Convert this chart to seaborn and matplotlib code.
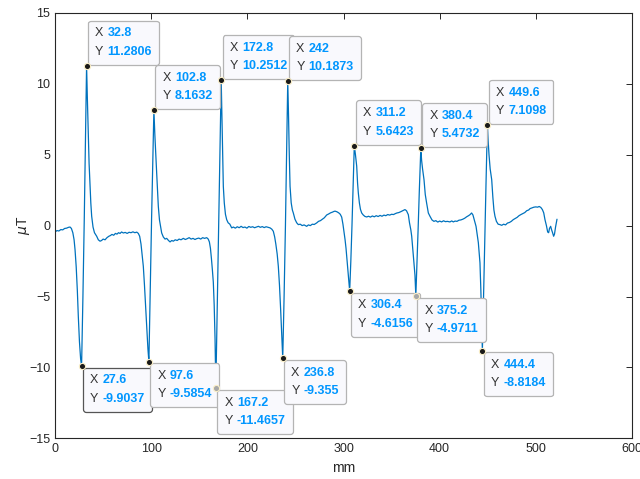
import matplotlib
matplotlib.use("Agg")
import matplotlib.pyplot as plt
from matplotlib.offsetbox import AnnotationBbox, TextArea, HPacker, VPacker
import seaborn as sns
import pandas as pd

# señal (posicion en mm, campo en uT)
pos_mm = [
    0, 2, 4, 6, 8, 10, 12, 14, 15.6, 17, 18.5, 19.8, 20.8, 22, 23.2, 24.2, 25.4, 26.6, 27.6,
    29, 30.4, 31.6, 32.8,
    33.6, 34.6, 35.4, 36.4, 37.2, 38.1, 39.5, 41, 43.3, 45, 46.8, 48.4, 50, 52, 54, 56, 57.6,
    59.2, 61, 62.8, 64.4, 66, 67.6, 69.2, 71, 73, 75, 77, 79, 81, 83, 85, 86.6, 88, 89.4,
    90.6, 91.8, 93, 94.2, 95.3, 96.6, 97.6,
    99, 100.4, 101.6, 102.8,
    103.8, 104.8, 105.7, 106.6, 107.4, 108.6, 109.8, 110.9, 112.6, 114.4, 116.1, 118, 119.6,
    121.4, 123, 125, 127, 129, 131, 133.4, 135.5, 137.5, 139.5, 141.5, 143.5, 145.5, 147.3,
    149.5, 151.5, 153.5, 155.5, 157.7, 159.3, 160.5, 161.6, 162.6, 163.6, 164.6, 165.5, 166.4,
    167.2,
    168.6, 170, 171.4, 172.8,
    173.6, 174.4, 175, 176, 177.2, 178.5, 180, 181.8, 183.7, 185.5, 187.5, 189.5, 191.5,
    193.5, 195.5, 197.5, 199.5, 201.5, 203.5, 205.5, 207.5, 209.5, 211.5, 213.5, 215.5,
    217.5, 219.5, 221.5, 223.6, 225.4, 227, 228.4, 229.6, 231, 232.2, 233.4, 234.6, 235.8,
    236.8,
    238.2, 239.6, 240.8, 242,
    242.8, 243.6, 244.4, 245.6, 246.8, 247.8, 249.5, 251.3, 253, 255, 257, 259, 261.7, 263.5,
    265.5, 267.5, 269.5, 272.1, 274, 276, 278, 280, 282.5, 284.5, 286.5, 288.5, 290, 291.2,
    293, 295, 296.6, 298.1, 299.4, 300.6, 301.6, 302.6, 303.5, 304.4, 305.4, 306.4,
    307.6, 308.8, 310, 311.2,
    312.4, 313.7, 314.6, 315.4, 316.5, 317.6, 318.9, 320.5, 322.2, 324.1, 326, 328, 330,
    332, 334, 336, 338, 340, 342, 344, 346, 348, 350, 352, 354, 355.5, 357.5, 359.5, 361.5,
    363.9, 365.5, 367.4, 368.6, 370, 370.9, 372, 373.2, 374.3, 375.2,
    376.4, 377.6, 378.8, 380.4,
    381.2, 382.2, 383.7, 385, 386.4, 388.2, 389.9, 392, 394, 396, 398, 400, 402, 404, 406,
    408, 410.7, 412.5, 414.2, 416, 418, 420, 422, 424, 426, 428, 430, 431.5, 433.2, 434.6,
    436, 437.8, 439, 440.2, 441.1, 441.9, 442.8, 443.6, 444.4,
    445.6, 446.8, 448.2, 449.6,
    450.4, 451.3, 452.5, 454.1, 455.3, 456.4, 457.5, 459, 460.8, 462.7, 464.5, 466.5, 468.5,
    470.5, 472.5, 474.5, 476.5, 478.5, 480.5, 482.5, 484.5, 486.5, 488.5, 490.5, 492.5, 494,
    496, 498, 500, 501.8, 503.5, 505.2, 506.8, 508.2, 509.5, 511, 512.3, 513.3, 514.2, 515.4,
    516.4, 517.4, 518.5, 519.4, 520.5, 522,
]
campo_uT = [
    -0.45, -0.35, -0.38, -0.28, -0.3, -0.2, -0.18, -0.12, -0.1, -0.2, -0.5, -1.0, -1.7, -2.9,
    -4.6, -6.4, -8.2, -9.4, -9.9037,
    -5.0, 0.5, 6.0, 11.2806,
    9.0, 6.5, 4.4, 2.77, 1.6, 0.66, -0.1, -0.5, -0.75, -1.0, -1.1, -1.05, -0.95, -1.0, -0.85,
    -0.75, -0.7, -0.62, -0.68, -0.55, -0.6, -0.5, -0.55, -0.45, -0.52, -0.48, -0.55, -0.47,
    -0.5, -0.44, -0.5, -0.46, -0.55, -0.75, -1.3, -2.1, -2.87, -4.2, -5.7, -7.1, -8.7, -9.5854,
    -4.5, 0.5, 4.5, 8.1632,
    6.4, 4.9, 3.7, 2.4, 1.36, 0.4, -0.1, -0.52, -0.8, -0.95, -0.9, -1.05, -1.15, -1.05, -1.1,
    -1.0, -1.05, -0.95, -1.0, -0.9, -0.98, -0.92, -0.85, -0.95, -0.9, -0.98, -0.92, -0.88,
    -0.95, -0.85, -0.9, -0.85, -0.95, -1.15, -1.6, -2.3, -3.1, -4.0, -5.6, -8.0,
    -11.4657,
    -6.0, -0.5, 5.0, 10.2512,
    7.6, 4.8, 2.77, 1.6, 0.8, 0.42, 0.2, 0.1, -0.16, -0.1, -0.18, -0.08, -0.15, -0.05, -0.14,
    -0.1, -0.18, -0.06, -0.12, -0.08, -0.15, -0.1, -0.05, -0.12, -0.07, -0.14, -0.08, -0.12,
    -0.16, -0.25, -0.4, -0.8, -1.3, -2.0, -2.87, -4.2, -5.9, -7.8,
    -9.355,
    -5.0, 0.0, 5.0, 10.1873,
    7.8, 5.0, 2.77, 1.6, 1.1, 0.89, 0.45, 0.2, 0.07, 0.1, 0.0, 0.05, -0.05, 0.05, 0.0, 0.1,
    0.08, 0.19, 0.3, 0.35, 0.45, 0.55, 0.75, 0.82, 0.9, 0.95, 1.0, 1.02, 0.98, 0.9, 0.8, 0.6,
    0.1, -0.5, -0.99, -1.6, -2.3, -3.0, -3.8, -4.6156,
    -2.5, 0.0, 2.8, 5.6423,
    5.0, 4.2, 3.0, 2.3, 1.6, 1.15, 0.89, 0.75, 0.65, 0.61, 0.66, 0.6, 0.68, 0.62, 0.7, 0.64,
    0.72, 0.66, 0.74, 0.7, 0.78, 0.74, 0.8, 0.78, 0.85, 0.89, 0.92, 0.98, 1.05, 1.13, 1.05,
    0.77, 0.2, -0.3, -0.75, -1.6, -2.6, -3.5, -4.9711,
    -2.6, -0.2, 2.4, 5.4732,
    4.6, 4.0, 3.24, 2.2, 1.6, 0.89, 0.66, 0.4, 0.3, 0.35, 0.25, 0.32, 0.26, 0.34, 0.28, 0.3,
    0.26, 0.33, 0.26, 0.32, 0.3, 0.38, 0.4, 0.45, 0.52, 0.62, 0.7, 0.77, 0.89, 0.75, 0.4,
    -0.05, -0.6, -1.2, -2.0, -2.63, -4.5, -6.8, -8.8184,
    -5.0, -1.0, 3.0, 7.1098,
    6.0, 5.0, 4.0, 3.24, 2.0, 1.1, 0.66, 0.3, 0.1, 0.07, 0.02, 0.1, 0.05, 0.18, 0.22, 0.3,
    0.42, 0.5, 0.58, 0.7, 0.78, 0.85, 0.92, 1.05, 1.1, 1.2, 1.25, 1.3, 1.32, 1.3, 1.35, 1.28,
    1.13, 0.9, 0.42, 0.0, -0.45, -0.5, -0.2, -0.05, -0.3, -0.5, -0.75, -0.6, -0.1, 0.45,
]

# data tips (X, Y, arriba/abajo)
tip_x = [32.8, 102.8, 172.8, 242, 311.2, 380.4, 449.6,
         27.6, 97.6, 167.2, 236.8, 306.4, 375.2, 444.4]
tip_y = [11.2806, 8.1632, 10.2512, 10.1873, 5.6423, 5.4732, 7.1098,
         -9.9037, -9.5854, -11.4657, -9.355, -4.6156, -4.9711, -8.8184]
tip_txt_x = ["32.8", "102.8", "172.8", "242", "311.2", "380.4", "449.6",
             "27.6", "97.6", "167.2", "236.8", "306.4", "375.2", "444.4"]
tip_txt_y = ["11.2806", "8.1632", "10.2512", "10.1873", "5.6423", "5.4732", "7.1098",
             "-9.9037", "-9.5854", "-11.4657", "-9.355", "-4.6156", "-4.9711", "-8.8184"]
tip_up = [True] * 7 + [False] * 7
tip_gris = [167.2, 375.2]

df = pd.DataFrame({"mm": pos_mm, "uT": campo_uT})

sns.set_style("white")
plt.rcParams["font.family"] = ["Liberation Sans", "DejaVu Sans"]

fig = plt.figure(figsize=(6.4, 4.79), dpi=100)
ax = fig.add_axes([0.086, 0.085, 0.9015, 0.888])

sns.lineplot(data=df, x="mm", y="uT", estimator=None, sort=False,
             color="#0072BD", linewidth=0.9, ax=ax)

# marcadores de los data tips
for x, y in zip(tip_x, tip_y):
    c = "#a8a8a8" if x in tip_gris else "#1a1a1a"
    ax.scatter([x], [y], s=20, color=c, edgecolors="#fbefc8", linewidths=0.8, zorder=5)

# cajas de los data tips
for i in range(len(tip_x)):
    fila1 = HPacker(children=[TextArea("X", textprops=dict(color="#333333", size=9)),
                              TextArea(tip_txt_x[i], textprops=dict(color="#0096ff", size=9, weight="bold"))],
                    align="baseline", pad=0, sep=3)
    fila2 = HPacker(children=[TextArea("Y", textprops=dict(color="#333333", size=9)),
                              TextArea(tip_txt_y[i], textprops=dict(color="#0096ff", size=9, weight="bold"))],
                    align="baseline", pad=0, sep=3)
    caja = VPacker(children=[fila1, fila2], align="left", pad=5, sep=4.5)
    borde = "#555555" if tip_x[i] == 27.6 else "#b4b4b4"
    if tip_up[i]:
        off, al = (1.5, 1.0), (0, 0)
    else:
        off, al = (1.5, -1.5), (0, 1)
    ab = AnnotationBbox(caja, (tip_x[i], tip_y[i]), xybox=off, boxcoords="offset pixels",
                        box_alignment=al, pad=0, frameon=True,
                        bboxprops=dict(boxstyle="round,pad=0,rounding_size=0.2",
                                       facecolor="#f9f9fd", edgecolor=borde, linewidth=0.9))
    ax.add_artist(ab)

ax.set_xlim(0, 600)
ax.set_ylim(-15, 15)
ax.set_xticks([0, 100, 200, 300, 400, 500, 600])
ax.set_yticks([-15, -10, -5, 0, 5, 10, 15])
ax.tick_params(direction="in", length=4.5, width=0.7, colors="#262626",
               labelsize=9, top=True, right=True, labelcolor="#262626")
for s in ax.spines.values():
    s.set_color("#262626")
    s.set_linewidth(0.8)
ax.set_xlabel("mm", fontsize=10, color="#262626")
ax.set_ylabel(r"$\mu$T", fontsize=10, color="#262626")
ax.yaxis.set_label_coords(-0.04, 0.5)

fig.savefig("out.png", dpi=100)
